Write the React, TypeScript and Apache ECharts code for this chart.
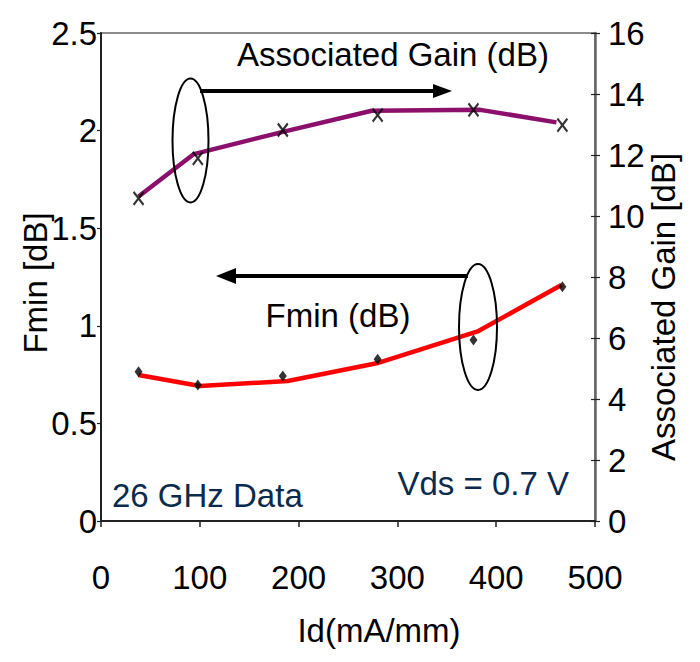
import React, { useEffect, useRef } from "react";
import * as echarts from "echarts";

// Measured points (Id in mA/mm)
const idPoints = [38, 98, 184, 280, 377, 467];
const gainPoints = [10.58, 11.89, 12.82, 13.31, 13.48, 12.98];
const fminPoints = [0.765, 0.697, 0.743, 0.828, 0.927, 1.2];

// Fitted curves
const gainLineX = [38, 94, 184, 274, 384, 461];
const gainLineY = [10.64, 12.03, 12.76, 13.45, 13.48, 13.07];
const fminLineX = [38, 100, 189, 279, 382, 466];
const fminLineY = [0.748, 0.692, 0.717, 0.808, 0.973, 1.209];

const xTicks = [0, 100, 200, 300, 400, 500];
const leftTicks = [0, 0.5, 1, 1.5, 2, 2.5];
const rightTicks = [0, 2, 4, 6, 8, 10, 12, 14, 16];

const FONT = "'Liberation Sans', Arial, sans-serif";
const NAVY = "#0b2b4c";

export default function App() {
  const ref = useRef<HTMLDivElement>(null);
  useEffect(() => {
    if (!ref.current) return;
    const chart = echarts.init(ref.current, undefined, { renderer: "svg" });
    const pair = (xs: number[], ys: number[]) => xs.map((x, i) => [x, ys[i]]);
    const labelStyle = { color: "#000", fontSize: 33, fontFamily: FONT };
    chart.setOption({
      animation: false,
      backgroundColor: "#fff",
      textStyle: { fontFamily: FONT },
      grid: {
        left: 101,
        right: 105,
        top: 33,
        bottom: 141,
        show: true,
        borderColor: "#8c8c8c",
        borderWidth: 2,
        backgroundColor: "#fff",
      },
      xAxis: {
        type: "value",
        min: xTicks[0],
        max: xTicks[xTicks.length - 1],
        interval: 100,
        axisLine: { show: true, lineStyle: { color: "#222", width: 2 } },
        axisTick: { show: true, inside: false, length: 6, lineStyle: { color: "#222", width: 1.5 } },
        axisLabel: { ...labelStyle, margin: 40 },
        splitLine: { show: false },
      },
      yAxis: [
        {
          type: "value",
          position: "left",
          min: leftTicks[0],
          max: leftTicks[leftTicks.length - 1],
          interval: 0.5,
          axisLine: { show: true, lineStyle: { color: "#222", width: 2 } },
          axisTick: { show: true, inside: false, length: 4, lineStyle: { color: "#222", width: 1.2 } },
          axisLabel: { ...labelStyle, margin: 4 },
          splitLine: { show: false },
        },
        {
          type: "value",
          position: "right",
          min: rightTicks[0],
          max: rightTicks[rightTicks.length - 1],
          interval: 2,
          axisLine: { show: true, lineStyle: { color: "#666", width: 2.5 } },
          axisTick: { show: true, inside: false, length: 5, lineStyle: { color: "#222", width: 1.2 } },
          axisLabel: { ...labelStyle, margin: 13 },
          splitLine: { show: false },
        },
        {
          type: "value",
          position: "right",
          min: rightTicks[0],
          max: rightTicks[rightTicks.length - 1],
          interval: 2,
          axisLine: { show: false },
          axisTick: { show: true, inside: true, length: 4, lineStyle: { color: "#222", width: 1.2 } },
          axisLabel: { show: false },
          splitLine: { show: false },
        },
      ],
      series: [
        {
          type: "line",
          yAxisIndex: 1,
          data: pair(gainLineX, gainLineY),
          showSymbol: false,
          symbol: "none",
          lineStyle: { color: "#8b0f6b", width: 4.5 },
          z: 2,
        },
        {
          type: "line",
          yAxisIndex: 0,
          data: pair(fminLineX, fminLineY),
          showSymbol: false,
          symbol: "none",
          lineStyle: { color: "#ff0000", width: 4.5 },
          z: 2,
        },
        {
          type: "scatter",
          yAxisIndex: 1,
          data: pair(idPoints, gainPoints),
          symbol: "path://M0,0L10,12M10,0L0,12",
          symbolSize: [10, 13],
          itemStyle: { color: "rgba(0,0,0,0)", borderColor: "#000", borderWidth: 2.2 },
          z: 3,
        },
        {
          type: "scatter",
          yAxisIndex: 0,
          data: pair(idPoints, fminPoints),
          symbol: "diamond",
          symbolSize: [8, 11],
          itemStyle: { color: "#000" },
          z: 3,
        },
      ],
      graphic: [
        // Gain annotation
        {
          type: "ellipse",
          shape: { cx: 190.5, cy: 140.5, rx: 18, ry: 62 },
          style: { fill: "none", stroke: "#000", lineWidth: 2 },
          z: 10,
        },
        {
          type: "line",
          shape: { x1: 200, y1: 91, x2: 436, y2: 91 },
          style: { stroke: "#000", lineWidth: 4 },
          z: 10,
        },
        {
          type: "polygon",
          shape: { points: [[433, 84], [452, 91], [433, 98]] },
          style: { fill: "#000" },
          z: 10,
        },
        // Fmin annotation
        {
          type: "ellipse",
          shape: { cx: 478, cy: 327, rx: 19, ry: 63 },
          style: { fill: "none", stroke: "#000", lineWidth: 2 },
          z: 10,
        },
        {
          type: "line",
          shape: { x1: 468, y1: 276, x2: 232, y2: 276 },
          style: { stroke: "#000", lineWidth: 4 },
          z: 10,
        },
        {
          type: "polygon",
          shape: { points: [[236, 268], [216, 276], [236, 284]] },
          style: { fill: "#000" },
          z: 10,
        },
        {
          type: "text",
          x: 393,
          y: 54,
          style: { text: "Associated Gain (dB)", fill: "#000", font: `33px ${FONT}`, align: "center", verticalAlign: "middle" },
          z: 10,
        },
        {
          type: "text",
          x: 338,
          y: 315,
          style: { text: "Fmin (dB)", fill: "#000", font: `33px ${FONT}`, align: "center", verticalAlign: "middle" },
          z: 10,
        },
        {
          type: "text",
          x: 112,
          y: 495,
          style: { text: "26 GHz Data", fill: NAVY, font: `33px ${FONT}`, align: "left", verticalAlign: "middle" },
          z: 10,
        },
        {
          type: "text",
          x: 569,
          y: 483,
          style: { text: "Vds = 0.7 V", fill: NAVY, font: `33px ${FONT}`, align: "right", verticalAlign: "middle" },
          z: 10,
        },
        {
          type: "text",
          x: 35,
          y: 283,
          rotation: Math.PI / 2,
          style: { text: "Fmin [dB]", fill: "#000", font: `33px ${FONT}`, align: "center", verticalAlign: "middle" },
          z: 10,
        },
        {
          type: "text",
          x: 663,
          y: 307,
          rotation: Math.PI / 2,
          style: { text: "Associated Gain [dB]", fill: "#000", font: `33px ${FONT}`, align: "center", verticalAlign: "middle" },
          z: 10,
        },
        {
          type: "text",
          x: 379,
          y: 630,
          style: { text: "Id(mA/mm)", fill: "#000", font: `33px ${FONT}`, align: "center", verticalAlign: "middle" },
          z: 10,
        },
      ],
    });
    return () => chart.dispose();
  }, []);
  return (
    <div
      ref={ref}
      style={{ position: "absolute", left: 0, top: 0, width: 700, height: 662 }}
    />
  );
}
